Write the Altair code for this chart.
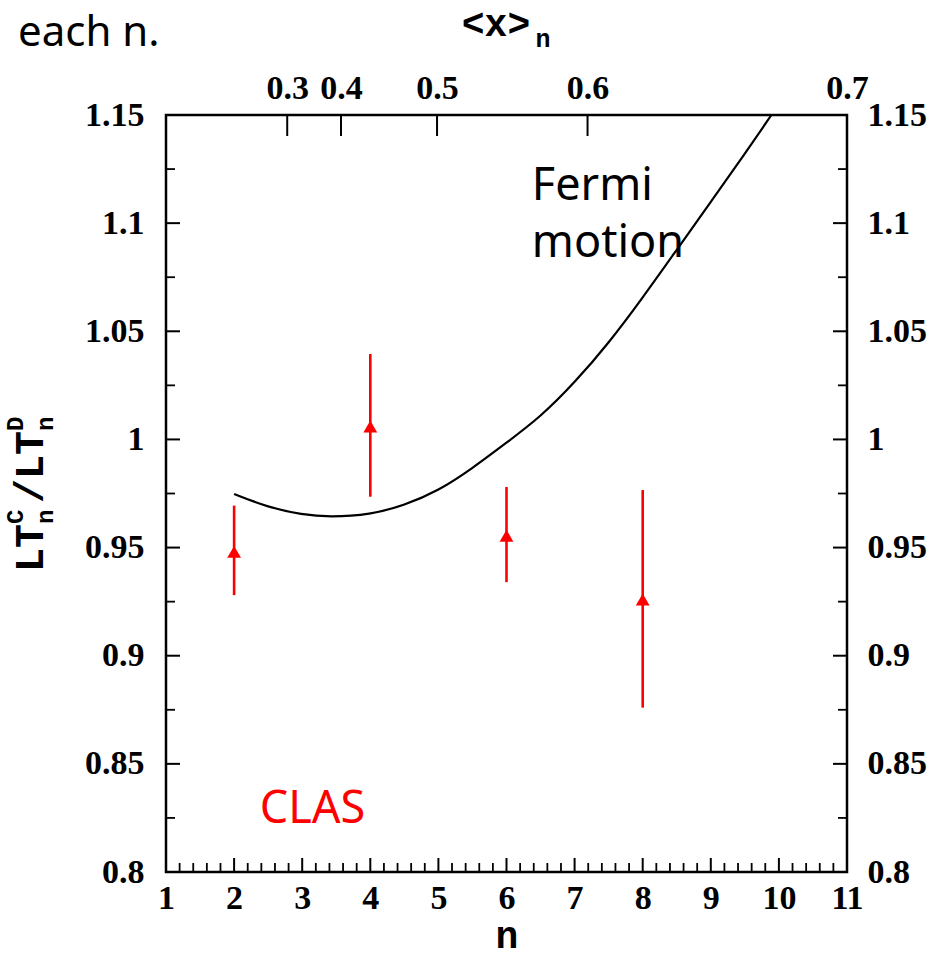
import altair as alt
import pandas as pd

# ---------------- data ----------------
clas_n = [2, 4, 6, 8]
clas_ratio = [0.948, 1.006, 0.9555, 0.926]
clas_lo = [0.928, 0.9735, 0.934, 0.876]
clas_hi = [0.9694, 1.0395, 0.978, 0.9766]

fermi_n = [2.0, 2.5, 3.0, 3.4, 4.0, 4.5, 5.0, 5.5, 6.0, 6.5, 7.0,
           7.5, 8.0, 8.5, 9.0, 9.5, 9.89]
fermi_v = [0.9748, 0.9686, 0.9652, 0.9641, 0.9652, 0.9695, 0.9762, 0.9866, 0.9985,
           1.0104, 1.0262, 1.0445, 1.0655, 1.0877, 1.1098, 1.132, 1.15]

x_major = [1, 2, 3, 4, 5, 6, 7, 8, 9, 10, 11]
x_minor = [round(1 + 0.2 * i, 2) for i in range(51) if i % 5 != 0]
y_major = [0.8, 0.85, 0.9, 0.95, 1.0, 1.05, 1.1, 1.15]
y_minor = [0.825, 0.875, 0.925, 0.975, 1.025, 1.075, 1.125]
y_labels = ["0.8", "0.85", "0.9", "0.95", "1", "1.05", "1.1", "1.15"]

xn_pos = [2.78, 3.57, 4.98, 7.19, 11.0]
xn_labels = ["0.3", "0.4", "0.5", "0.6", "0.7"]

notes_text = ["Fermi", "motion", "CLAS"]
notes_n = [6.372, 6.372, 2.377]
notes_v = [1.1107, 1.0843, 0.8227]
notes_color = ["black", "black", "red"]

# y title pieces: text, font size, (x, y) anchor in pixels relative to plot origin
ytitle_text = ["LT", "C", "n", "/LT", "D", "n"]
ytitle_size = [40, 24, 24, 40, 24, 24]
ytitle_x = [-123, -143, -113, -123, -143, -113]
ytitle_y = [457, 409, 409, 388, 316, 316]

W, H = 681, 757
xs = alt.Scale(domain=[1, 11], nice=False, zero=False)
ys = alt.Scale(domain=[0.8, 1.15], nice=False, zero=False)

LABEL = dict(labelFont="Liberation Serif", labelFontWeight="bold", labelFontSize=34,
             labelColor="black", ticks=False, domain=False, grid=False,
             labelFlush=False, labelOverlap=False)
MONO = "Liberation Mono"

df_clas = pd.DataFrame({"n": clas_n, "r": clas_ratio, "lo": clas_lo, "hi": clas_hi})
df_fermi = pd.DataFrame({"n": fermi_n, "v": fermi_v})
df_xmaj = pd.DataFrame({"n": x_major})
df_xmin = pd.DataFrame({"n": x_minor})
df_ymaj = pd.DataFrame({"v": y_major})
df_ymin = pd.DataFrame({"v": y_minor})
df_top = pd.DataFrame({"n": xn_pos})
df_notes = pd.DataFrame({"n": notes_n, "v": notes_v, "t": notes_text, "c": notes_color})
df_ytitle = pd.DataFrame({"t": ytitle_text, "s": ytitle_size, "px": ytitle_x, "py": ytitle_y})

y_label_expr = "[" + ",".join(f"'{s}'" for s in y_labels) + "][indexof([" + \
    ",".join(str(v) for v in y_major) + "], datum.value)]"
top_label_expr = "[" + ",".join(f"'{s}'" for s in xn_labels) + "][indexof([" + \
    ",".join(str(v) for v in xn_pos) + "], datum.value)]"

# bottom axis + major ticks
bottom_major = alt.Chart(df_xmaj).mark_rule(color="black", strokeWidth=2).encode(
    x=alt.X("n:Q", scale=xs, axis=alt.Axis(
        orient="bottom", values=x_major, labelPadding=9, title="n",
        titleFont=MONO, titleFontWeight="bold", titleFontSize=38, titleColor="black",
        titleX=W / 2, titleY=64, titleBaseline="middle", titleAlign="center", **LABEL)),
    y=alt.value(H), y2=alt.value(H - 14))
bottom_minor = alt.Chart(df_xmin).mark_rule(color="black", strokeWidth=1.8).encode(
    x=alt.X("n:Q", scale=xs, axis=None), y=alt.value(H), y2=alt.value(H - 9))

# top axis (<x>_n)
top_ticks = alt.Chart(df_top).mark_rule(color="black", strokeWidth=2).encode(
    x=alt.X("n:Q", scale=xs, axis=alt.Axis(
        orient="top", values=xn_pos, labelExpr=top_label_expr, labelPadding=10,
        title=None, **LABEL)),
    y=alt.value(0), y2=alt.value(21))
top_title_main = alt.Chart(pd.DataFrame({"t": ["<x>"]})).mark_text(
    font=MONO, fontWeight="bold", fontSize=38, align="center", baseline="middle",
    color="black").encode(x=alt.value(330), y=alt.value(-90), text="t:N")
top_title_sub = alt.Chart(pd.DataFrame({"t": ["n"]})).mark_text(
    font=MONO, fontWeight="bold", fontSize=25, align="center", baseline="middle",
    color="black").encode(x=alt.value(377), y=alt.value(-76), text="t:N")

# left axis + ticks
left_major = alt.Chart(df_ymaj).mark_rule(color="black", strokeWidth=2).encode(
    y=alt.Y("v:Q", scale=ys, axis=alt.Axis(
        orient="left", values=y_major, labelExpr=y_label_expr, labelPadding=22,
        title=None, **LABEL)),
    x=alt.value(0), x2=alt.value(14))
left_minor = alt.Chart(df_ymin).mark_rule(color="black", strokeWidth=1.8).encode(
    y=alt.Y("v:Q", scale=ys, axis=None), x=alt.value(0), x2=alt.value(9))

# y title built from pieces (main text, superscripts, subscripts)
ytitle = alt.Chart(df_ytitle).mark_text(
    font=MONO, fontWeight="bold", angle=270, align="left", baseline="alphabetic",
    color="black").encode(
    x=alt.X("px:Q", scale=None, axis=None), y=alt.Y("py:Q", scale=None, axis=None),
    text="t:N", size=alt.Size("s:Q", scale=None, legend=None))

# right axis + ticks
right_major = alt.Chart(df_ymaj).mark_rule(color="black", strokeWidth=2).encode(
    y=alt.Y("v:Q", scale=ys, axis=alt.Axis(
        orient="right", values=y_major, labelExpr=y_label_expr, labelPadding=20,
        title=None, **LABEL)),
    x=alt.value(W), x2=alt.value(W - 14))
right_minor = alt.Chart(df_ymin).mark_rule(color="black", strokeWidth=1.8).encode(
    y=alt.Y("v:Q", scale=ys, axis=None), x=alt.value(W), x2=alt.value(W - 9))

# Fermi motion curve
fermi = alt.Chart(df_fermi).mark_line(color="black", strokeWidth=2.2,
                                      interpolate="basis").encode(
    x=alt.X("n:Q", scale=xs, axis=None), y=alt.Y("v:Q", scale=ys, axis=None))

# CLAS data
bars = alt.Chart(df_clas).mark_rule(color="#ff0000", strokeWidth=2.6).encode(
    x=alt.X("n:Q", scale=xs, axis=None),
    y=alt.Y("lo:Q", scale=ys, axis=None), y2="hi:Q")
pts = alt.Chart(df_clas).mark_point(shape="triangle-up", filled=True, color="#ff0000",
                                    size=190, opacity=1).encode(
    x=alt.X("n:Q", scale=xs, axis=None), y=alt.Y("r:Q", scale=ys, axis=None))

# annotations
notes = alt.Chart(df_notes).mark_text(font="Noto Sans", fontSize=45, align="left",
                                      baseline="alphabetic").encode(
    x=alt.X("n:Q", scale=xs, axis=None), y=alt.Y("v:Q", scale=ys, axis=None),
    text="t:N", color=alt.Color("c:N", scale=None))
each = alt.Chart(pd.DataFrame({"t": ["each n."]})).mark_text(
    font="Noto Sans", fontSize=42, align="left", baseline="alphabetic", color="black"
).encode(x=alt.value(-148), y=alt.value(-69), text="t:N")

chart = alt.layer(
    bottom_major, top_ticks, left_major, right_major,
    bottom_minor, left_minor, right_minor,
    fermi, bars, pts, notes, each, top_title_main, top_title_sub, ytitle
).resolve_axis(x="independent", y="independent").properties(
    width=W, height=H,
    autosize=alt.AutoSizeParams(type="none"),
    padding={"left": 166, "top": 115, "right": 86, "bottom": 88},
    background="white"
).configure_view(stroke="black", strokeWidth=2.5)

chart.save("out.html", embed_options={"renderer": "svg", "actions": False})
